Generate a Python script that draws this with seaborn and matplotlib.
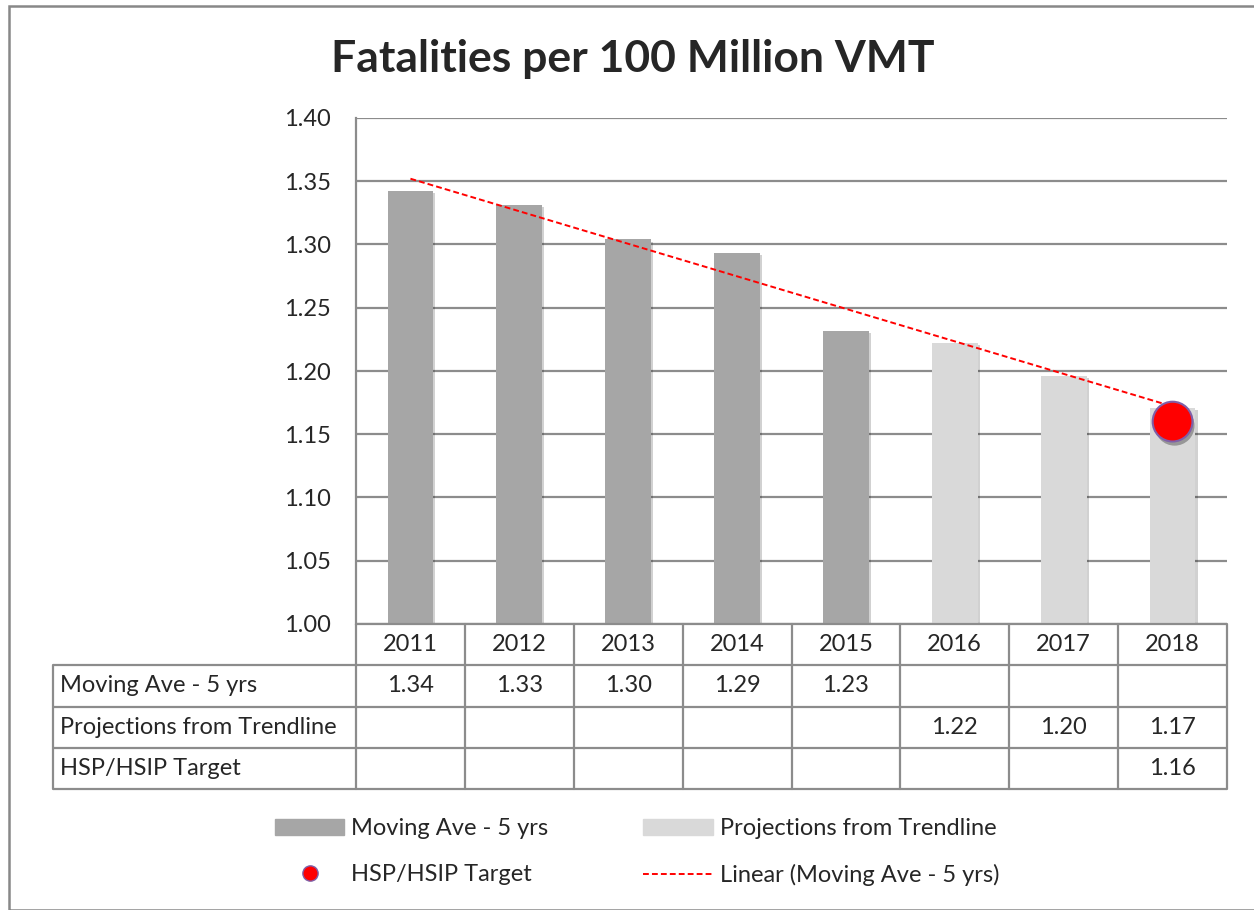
import matplotlib
matplotlib.use("Agg")
import matplotlib.pyplot as plt
import matplotlib.patheffects as pe
import seaborn as sns
import pandas as pd
from matplotlib.patches import Patch, Rectangle
from matplotlib.lines import Line2D

years = ["2011", "2012", "2013", "2014", "2015", "2016", "2017", "2018"]
moving_ave = [1.342, 1.331, 1.304, 1.293, 1.232, None, None, None]
projections = [None, None, None, None, None, 1.222, 1.196, 1.171]
target = [None, None, None, None, None, None, None, 1.16]
# Excel linear trendline of the moving average (end points)
trend_x = ["2011", "2018"]
trend_y = [1.352, 1.172]

row_names = ["Moving Ave - 5 yrs", "Projections from Trendline", "HSP/HSIP Target"]

DARK = "#A6A6A6"
LIGHT = "#D9D9D9"
GRID = "#8C8C8C"
FS = 17

sns.set_theme(style="white")
plt.rcParams["font.family"] = ["Lato", "DejaVu Sans"]

W, H = 1254, 910
fig = plt.figure(figsize=(W / 100, H / 100), dpi=100)

# outer chart border
fig.patches.append(Rectangle((9 / W, 0), 2, 1 - 6 / H, transform=fig.transFigure,
                             fill=False, edgecolor="#888888", lw=1.8))

ax = fig.add_axes([356 / W, 1 - 624 / H, (1227 - 356) / W, (624 - 118) / H])

rows = []
for y, m, p in zip(years, moving_ave, projections):
    if m is not None:
        rows.append({"year": y, "value": m, "series": row_names[0]})
    if p is not None:
        rows.append({"year": y, "value": p, "series": row_names[1]})
df = pd.DataFrame(rows)

sns.barplot(data=df, x="year", y="value", hue="series", order=years, dodge=False,
            palette=[DARK, LIGHT], width=0.42, saturation=1, legend=False, ax=ax)
shadow = [pe.SimplePatchShadow(offset=(1.5, -1.5), alpha=0.18, shadow_rgbFace="black"), pe.Normal()]
for bar in ax.patches:
    bar.set_edgecolor("none")
    bar.set_path_effects(shadow)

ax.plot([years.index(x) for x in trend_x], trend_y, color="red", ls=(0, (3, 1.6)), lw=1.4, zorder=4)
tx = [i for i, t in enumerate(target) if t is not None]
ty = [t for t in target if t is not None]
dot = ax.scatter(tx, ty, s=820, color="red", edgecolor="#7F5FA8", linewidth=1.5, zorder=5)
dot.set_path_effects([pe.SimplePatchShadow(offset=(1.5, -3), alpha=0.3, shadow_rgbFace="black"), pe.Normal()])

ax.set_ylim(1.0, 1.4)
ax.set_xlim(-0.5, 7.5)
ax.set_yticks([1.0 + 0.05 * i for i in range(9)])
ax.set_yticklabels([f"{1.0 + 0.05 * i:.2f}" for i in range(9)], fontsize=FS)
ax.set_xticks([])
ax.set_xlabel("")
ax.set_ylabel("")
ax.tick_params(axis="y", length=0, pad=18)
ax.grid(axis="y", color=GRID, lw=1.6)
ax.set_axisbelow(True)
for side in ["top", "right", "bottom"]:
    ax.spines[side].set_visible(False)
ax.spines["left"].set_color(GRID)
ax.spines["left"].set_linewidth(1.6)

fig.text(633 / W, 1 - 59 / H, "Fatalities per 100 Million VMT", fontsize=32,
         fontweight="bold", ha="center", va="center")

# data table under the chart
cat_px = (1227 - 356) / 8
x0 = -0.5 - (356 - 53) / cat_px
tax = fig.add_axes([53 / W, 1 - 789 / H, (1227 - 53) / W, (789 - 624) / H])
tax.set_xlim(x0, 7.5)
tax.set_ylim(4, 0)
tax.axis("off")
for r in range(0, 5):
    left = -0.5 if r == 0 else x0
    tax.plot([left, 7.5], [r, r], color=GRID, lw=1.6, solid_capstyle="butt", clip_on=False)
for k in range(9):
    tax.plot([-0.5 + k, -0.5 + k], [0, 4], color=GRID, lw=1.6, clip_on=False)
tax.plot([x0, x0], [1, 4], color=GRID, lw=1.6, clip_on=False)

for i, y in enumerate(years):
    tax.text(i, 0.5, y, ha="center", va="center", fontsize=FS)
for r, (name, vals) in enumerate(zip(row_names, [moving_ave, projections, target]), start=1):
    tax.text(x0 + 7 / cat_px, r + 0.5, name, ha="left", va="center", fontsize=FS)
    for i, v in enumerate(vals):
        if v is not None:
            tax.text(i, r + 0.5, f"{v:.2f}", ha="center", va="center", fontsize=FS)

handles = [
    Patch(color=DARK, label=row_names[0]),
    Line2D([], [], marker="o", ls="none", markersize=11, markerfacecolor="red",
           markeredgecolor="#7F5FA8", label=row_names[2]),
    Patch(color=LIGHT, label=row_names[1]),
    Line2D([], [], color="red", ls=(0, (3, 1.6)), lw=1.4, label="Linear (Moving Ave - 5 yrs)"),
]
fig.legend(handles=handles, ncol=2, loc="center", bbox_to_anchor=(637 / W, 1 - 852 / H),
           frameon=False, fontsize=FS, handlelength=2.95, handleheight=0.7,
           handletextpad=0.3, columnspacing=4.0, labelspacing=1.05)

fig.savefig("out.png", dpi=100)
